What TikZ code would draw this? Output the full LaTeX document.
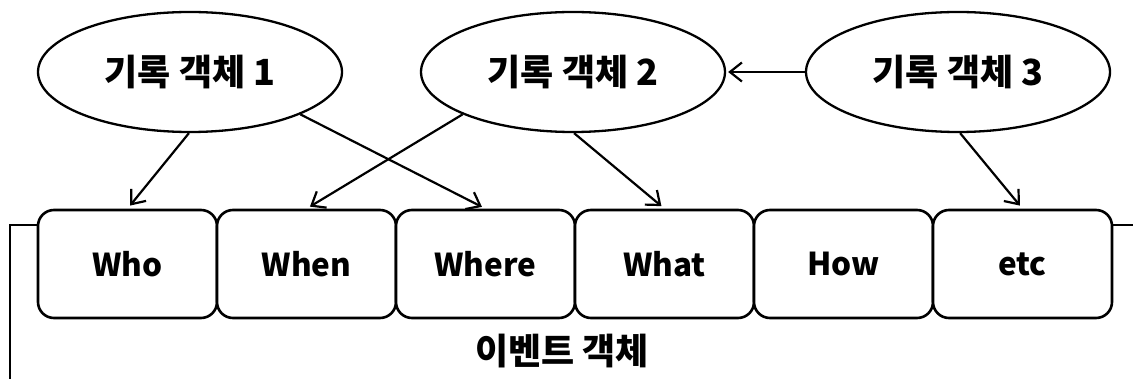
\documentclass[tikz,border=0pt]{standalone}
\usepackage{fontspec}
\usetikzlibrary{shapes.geometric,arrows.meta}
\newfontfamily\krfont{Noto Sans CJK KR}
\begin{document}
\begin{tikzpicture}[x=1pt,y=-1pt,
  line width=2.6pt,
  recobj/.style={draw,ellipse,line width=2.3pt,inner sep=0pt,minimum width=304pt,minimum height=120pt,
    font=\krfont\bfseries\fontsize{36}{40}\selectfont},
  field/.style={draw,rounded corners=16pt,inner sep=0pt,minimum width=179pt,minimum height=108pt,
    font=\krfont\bfseries\fontsize{31.5}{38}\selectfont},
  link/.style={line width=2.2pt,-{Straight Barb[length=12pt,width=19pt,line width=2.2pt]},shorten >=4pt}]
\useasboundingbox (0,0) rectangle (1133,379);
\begin{scope}
\clip (0,0) rectangle (1133,379);
% outer event frame, running off the bottom and right edges
\draw (10,420) -- (10,225) -- (1150,225);
\end{scope}
% field boxes
\node[field,fill=white] (who)   at (127.5,264) {Who};
\node[field,fill=white] (when)  at (306.5,264) {When};
\node[field,fill=white] (where) at (485.5,264) {Where};
\node[field,fill=white] (what)  at (664.5,264) {What};
\node[field,fill=white] (how)   at (843.5,264) {How};
\node[field,fill=white] (etc)   at (1022.5,264) {etc};
\node[font=\krfont\bfseries\fontsize{36}{40}\selectfont] (evt) at (562,351) {이벤트 객체};
% record objects
\node[recobj] (e1) at (190,72) {기록 객체 1};
\node[recobj] (e2) at (573,72) {기록 객체 2};
\node[recobj] (e3) at (958,72) {기록 객체 3};
% links
\draw[link] (e1.-91) -- (who.north);
\draw[link] (e1.-21) -- (where.north);
\draw[link] (e2.201) -- (when.north);
\draw[link] (e2.-89) -- (what.north);
\draw[link] (e3.-88) -- (etc.north);
\draw[link,shorten >=2pt] (e3.west) -- (e2.east);
\end{tikzpicture}
\end{document}
